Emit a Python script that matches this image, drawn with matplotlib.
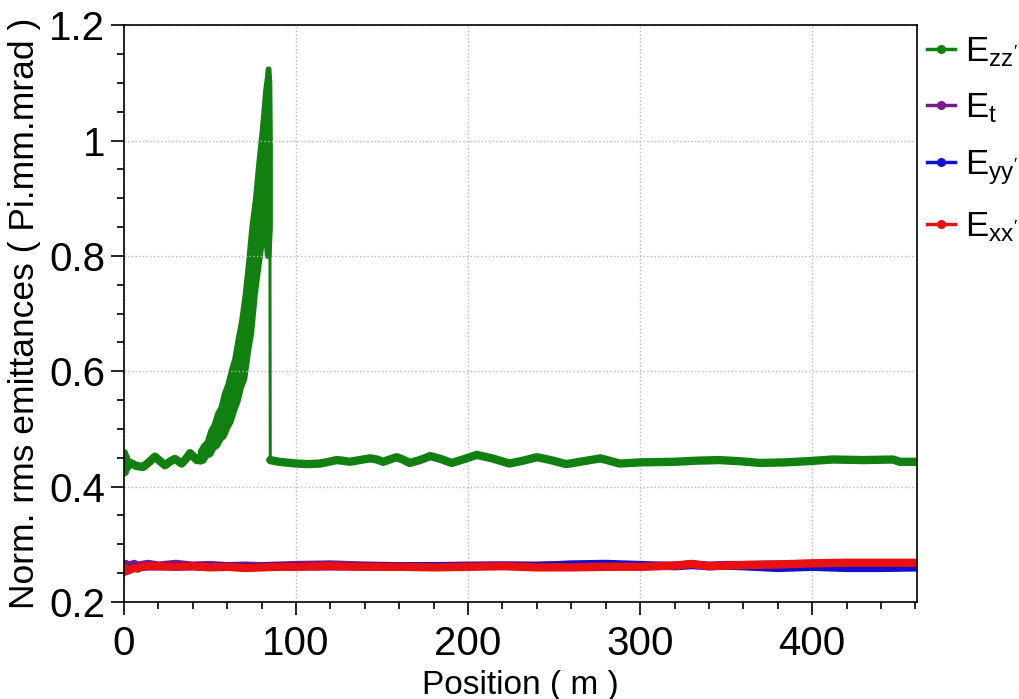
import matplotlib
matplotlib.use("Agg")
import matplotlib.pyplot as plt
from matplotlib.ticker import MultipleLocator

plt.rcParams['font.family'] = ['Liberation Sans', 'DejaVu Sans']
plt.rcParams['mathtext.default'] = 'regular'

# ---------------- data ----------------
series_labels = [r"$E_{zz'}$", r"$E_{t}$", r"$E_{yy'}$", r"$E_{xx'}$"]
series_colors = ['#118011', '#7a1a8c', '#1010d0', '#e81010']

# E_zz' : before the growth region
ezz_pre_x = [0, 0.4, 0.8, 1.5, 3, 4.5, 7, 11, 14, 18, 21, 23.8, 27, 29.6, 33.5, 36, 38.4,
             42.3, 44]
ezz_pre_y = [0.458, 0.425, 0.452, 0.432, 0.442, 0.44, 0.436, 0.434, 0.441, 0.452, 0.444,
             0.437, 0.444, 0.448, 0.44, 0.448, 0.458, 0.446, 0.45]
# E_zz' : noisy growth region (upper / lower envelope of the scatter)
ezz_band_x = [44, 46, 48, 50, 52, 54, 56, 58, 60, 62, 64, 66, 68, 70, 72, 74, 76, 78, 80,
              81, 82, 83, 83.5, 84, 84.5, 84.8]
ezz_band_hi = [0.462, 0.472, 0.478, 0.497, 0.508, 0.527, 0.538, 0.562, 0.578, 0.602, 0.622,
               0.657, 0.688, 0.732, 0.788, 0.852, 0.898, 0.962, 1.018, 1.052, 1.088, 1.11,
               1.125, 1.125, 1.1, 1.0]
ezz_band_lo = [0.443, 0.445, 0.454, 0.456, 0.467, 0.471, 0.482, 0.488, 0.502, 0.513, 0.532,
               0.548, 0.572, 0.588, 0.632, 0.668, 0.732, 0.778, 0.822, 0.83, 0.84, 0.8, 0.8,
               0.8, 0.83, 0.85]
# E_zz' : after the drop
ezz_post_x = [85, 90, 100, 107, 114, 119, 123.6, 127, 131, 137, 143, 147, 150.6, 154.5,
              158.5, 162, 166, 172, 178, 184, 190.5, 198, 205, 214, 224, 232, 240, 248,
              257, 267, 277, 282, 288, 300, 320, 333, 346, 358, 370, 384, 397, 412, 430,
              447, 451, 461]
ezz_post_y = [0.446, 0.443, 0.440, 0.439, 0.440, 0.443, 0.446, 0.445, 0.443, 0.446, 0.449,
              0.447, 0.443, 0.447, 0.451, 0.447, 0.441, 0.446, 0.453, 0.448, 0.441, 0.448,
              0.455, 0.449, 0.440, 0.445, 0.451, 0.446, 0.439, 0.444, 0.449, 0.445, 0.440,
              0.442, 0.443, 0.445, 0.446, 0.444, 0.441, 0.442, 0.444, 0.447, 0.446, 0.447,
              0.443, 0.443]

low_x = [0, 1, 2, 4, 6, 8, 10, 14, 20, 30, 40, 50, 60, 70, 80, 90, 100, 120, 140, 160,
         180, 200, 220, 240, 260, 280, 300, 320, 330, 340, 350, 360, 380, 400, 420, 440, 461]
et_y = [0.262, 0.266, 0.262, 0.264, 0.266, 0.262, 0.264, 0.266, 0.263, 0.266, 0.263, 0.264,
        0.262, 0.263, 0.262, 0.263, 0.264, 0.265, 0.263, 0.262, 0.262, 0.263, 0.263, 0.263,
        0.264, 0.263, 0.262, 0.263, 0.265, 0.263, 0.264, 0.264, 0.265, 0.266, 0.266, 0.266,
        0.266]
eyy_y = [0.254, 0.257, 0.256, 0.258, 0.26, 0.259, 0.261, 0.262, 0.262, 0.262, 0.262, 0.261,
         0.262, 0.26, 0.261, 0.262, 0.262, 0.262, 0.262, 0.262, 0.262, 0.262, 0.263, 0.262,
         0.265, 0.266, 0.264, 0.262, 0.264, 0.262, 0.263, 0.262, 0.259, 0.261, 0.259, 0.259,
         0.26]
exx_y = [0.252, 0.258, 0.254, 0.257, 0.259, 0.258, 0.261, 0.262, 0.262, 0.261, 0.262, 0.26,
         0.261, 0.259, 0.26, 0.261, 0.261, 0.262, 0.261, 0.261, 0.26, 0.261, 0.262, 0.26,
         0.26, 0.261, 0.261, 0.263, 0.266, 0.262, 0.263, 0.264, 0.265, 0.267, 0.268, 0.268,
         0.268]

x_label = "Position ( m )"
y_label = "Norm. rms emittances ( Pi.mm.mrad )"
x_ticks = [0, 100, 200, 300, 400]
y_ticks = [0.2, 0.4, 0.6, 0.8, 1.0, 1.2]
y_ticklabels = ['0.2', '0.4', '0.6', '0.8', '1', '1.2']

# ---------------- figure ----------------
fig = plt.figure(figsize=(10.2, 6.99), dpi=100)
ax = fig.add_axes([0.1216, 0.1388, 0.7775, 0.8252])

THICK = 6.0
green = series_colors[0]
ax.plot(ezz_pre_x, ezz_pre_y, color=green, lw=THICK, solid_joinstyle='round',
        solid_capstyle='round')
ax.fill_between(ezz_band_x, ezz_band_lo, ezz_band_hi, color=green, lw=3.5,
                edgecolor=green)
ax.plot([ezz_band_x[-1], ezz_post_x[0]], [ezz_band_lo[-1], ezz_post_y[0]], color=green,
        lw=2.2)
ax.plot(ezz_post_x, ezz_post_y, color=green, lw=THICK, solid_joinstyle='round',
        solid_capstyle='round')

for yv, col in zip([et_y, eyy_y, exx_y], series_colors[1:]):
    ax.plot(low_x, yv, color=col, lw=THICK, solid_joinstyle='round',
            solid_capstyle='round')

ax.set_xlim(0, 461)
ax.set_ylim(0.2, 1.2)
ax.set_xticks(x_ticks)
ax.set_yticks(y_ticks)
ax.set_yticklabels(y_ticklabels)
ax.xaxis.set_minor_locator(MultipleLocator(20))
ax.yaxis.set_minor_locator(MultipleLocator(0.05))
ax.tick_params(axis='both', which='major', direction='out', length=9.5, width=1.2,
               labelsize=29, colors='black')
ax.tick_params(axis='both', which='minor', direction='out', length=5, width=1.2)
ax.tick_params(axis='y', which='major', pad=4)
ax.tick_params(axis='x', which='major', pad=7)
ax.grid(True, which='major', color='#b8b8b8', linestyle=':', linewidth=1.0)
for sp in ax.spines.values():
    sp.set_linewidth(1.2)
    sp.set_color('black')

ax.set_xlabel(x_label, fontsize=24, labelpad=5)
ax.set_ylabel(y_label, fontsize=25.5, labelpad=6)

legend_handles = []
for col, lab in zip(series_colors, series_labels):
    lh, = ax.plot([], [], color=col, lw=2.5, marker='o', ms=5.5, label=lab)
    legend_handles.append(lh)
fig.legend(handles=legend_handles, labels=series_labels, loc='upper left',
           bbox_to_anchor=(0.909, 0.95), frameon=False, fontsize=25,
           handlelength=0.8, handletextpad=0.3, labelspacing=0.66, borderaxespad=0,
           borderpad=0)

fig.savefig("out.png", dpi=100)
